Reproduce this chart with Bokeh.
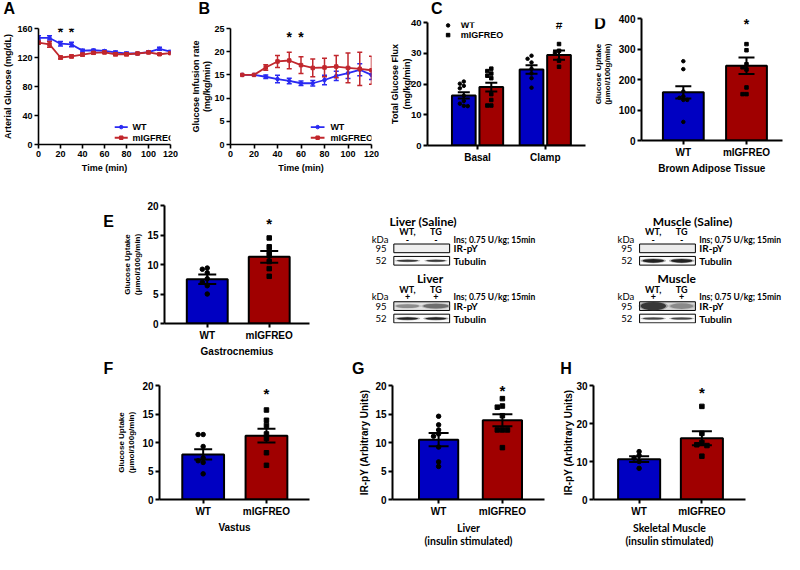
import math
from bokeh.plotting import figure
from bokeh.layouts import row, column
from bokeh.models import Label, Range1d, FixedTicker
from bokeh.embed import file_html
from bokeh.resources import INLINE

# ---------------- data ----------------
time_A = [0, 10, 20, 30, 40, 50, 60, 70, 80, 90, 100, 110, 120]
glucose_wt = [147, 147, 139, 138, 129.5, 130, 129, 127, 125.5, 125.5, 127.5, 132, 128]
glucose_wt_err = [3, 3, 3, 3, 2, 1.5, 1.5, 2, 2, 1.5, 1.5, 2, 1.5]
glucose_ko = [140.5, 138, 120, 121.5, 124, 126.5, 127, 124.5, 124.5, 125.5, 127, 124.5, 126]
glucose_ko_err = [2, 4, 2, 2, 2, 1.5, 1.5, 2, 2, 1.5, 1.5, 1.5, 1.5]
sig_A = [20, 30]

time_B = [10, 20, 30, 40, 50, 60, 70, 80, 90, 100, 110, 120]
gir_wt = [15, 15, 14.6, 14.1, 13.7, 13.2, 13.2, 13.9, 14.8, 15.4, 16.1, 15.0]
gir_wt_err = [0, 0, 0.4, 0.8, 0.6, 0.5, 0.6, 1.0, 1.0, 1.2, 1.3, 1.0]
gir_ko = [15, 15, 16.6, 17.9, 18.1, 17.1, 16.5, 16.6, 16.8, 16.5, 16.3, 16.0]
gir_ko_err = [0, 0, 0.6, 1.3, 1.8, 1.8, 1.9, 2.0, 2.4, 3.2, 3.6, 3.0]
sig_B = [50, 60]

groups = ["WT", "mIGFREO"]
flux_conditions = ["Basal", "Clamp"]
flux_wt_mean = [16.3, 24.7]
flux_wt_sem = [1.0, 1.4]
flux_ko_mean = [19.0, 29.4]
flux_ko_sem = [1.4, 1.5]
flux_wt_basal_pts = [20.8, 20.1, 19.4, 18.6, 16.2, 14.5, 13.6, 12.9, 12.8]
flux_ko_basal_pts = [25.0, 24.2, 23.4, 22.7, 21.9, 16.7, 14.8, 13.0, 13.0]
flux_wt_clamp_pts = [29.2, 28.2, 27.0, 25.0, 23.4, 21.9, 18.8]
flux_ko_clamp_pts = [33.0, 30.8, 30.0, 27.6, 25.6]

bat_mean = [158, 245]
bat_sem = [20, 27]
bat_wt_pts = [260, 234, 161, 145, 140, 133, 133, 61]
bat_ko_pts = [316, 296, 250, 240, 233, 174, 152, 152]

gas_mean = [7.5, 11.3]
gas_sem = [0.8, 1.0]
gas_wt_pts = [9.4, 9.2, 8.6, 7.6, 7.0, 6.4, 5.0]
gas_ko_pts = [14.5, 13.0, 12.2, 11.5, 10.5, 9.3, 8.0]

vas_mean = [7.9, 11.2]
vas_sem = [0.9, 1.2]
vas_wt_pts = [11.4, 11.4, 9.3, 7.3, 6.8, 6.5, 4.5]
vas_ko_pts = [15.7, 13.9, 13.0, 11.5, 10.7, 8.2, 6.0]

liv_mean = [10.5, 13.9]
liv_sem = [1.15, 1.05]
liv_wt_pts = [14.6, 13.1, 12.2, 11.5, 11.1, 9.2, 6.6, 5.8]
liv_ko_pts = [17.7, 16.4, 16.2, 14.7, 12.2, 12.2, 12.2, 9.1]

mus_mean = [10.6, 16.1]
mus_sem = [0.75, 1.85]
mus_wt_pts = [12.6, 11.6, 10.9, 10.0, 8.2]
mus_ko_pts = [24.5, 17.4, 15.0, 14.4, 14.2, 11.4]

# ---------------- styling ----------------
ARIAL = "Liberation Sans"
CAL = "Lato"
LINE_BLUE = "#2a2af2"
LINE_RED = "#c1272d"
BAR_BLUE = "#0000c2"
BAR_RED = "#a00000"

SX = 784 / 800.0
SY = 550 / 570.0


def bx(x):
    return int(round(x * SX))


def by(y):
    return int(round(y * SY))


class Panel:
    def __init__(self, box, frame, xr, yr, axes=True):
        X0, Y0, X1, Y1 = box
        FX0, FY0, FX1, FY1 = frame
        self.frame = frame
        self.xr = xr
        self.yr = yr
        kw = dict(width=bx(X1) - bx(X0), height=by(Y1) - by(Y0),
                  x_range=Range1d(*xr), y_range=Range1d(*yr),
                  min_border_left=bx(FX0) - bx(X0), min_border_right=bx(X1) - bx(FX1),
                  min_border_top=by(FY0) - by(Y0), min_border_bottom=by(Y1) - by(FY1),
                  output_backend="svg", toolbar_location=None)
        if not axes:
            kw.update(x_axis_location=None, y_axis_location=None)
        self.p = figure(**kw)
        self.p.outline_line_color = None
        self.p.grid.visible = False
        self.p.background_fill_color = "white"
        self.p.border_fill_color = "white"

    def dx(self, X):
        FX0, _, FX1, _ = self.frame
        return self.xr[0] + (X - FX0) / (FX1 - FX0) * (self.xr[1] - self.xr[0])

    def dy(self, Y):
        _, FY0, _, FY1 = self.frame
        return self.yr[0] + (FY1 - Y) / (FY1 - FY0) * (self.yr[1] - self.yr[0])

    def ppx(self):
        FX0, _, FX1, _ = self.frame
        return (FX1 - FX0) / (self.xr[1] - self.xr[0])

    def ppy(self):
        _, FY0, _, FY1 = self.frame
        return (FY1 - FY0) / abs(self.yr[1] - self.yr[0])


def text_panel(box):
    X0, Y0, X1, Y1 = box
    return Panel(box, box, (X0, X1), (Y1, Y0), axes=False)


def txt(P, X, Y, text, size, bold=True, font=ARIAL, align="center",
        baseline="middle", angle=0.0, xdata=None):
    x = xdata if xdata is not None else P.dx(X)
    P.p.add_layout(Label(x=x, y=P.dy(Y), text=text, text_font=font,
                         text_font_size=f"{size}px",
                         text_font_style="bold" if bold else "normal",
                         text_align=align, text_baseline=baseline, angle=angle,
                         text_color="black"))


def style_axes(P, xticks, yticks, xlabels=None, size="10px", lw=2,
               ylabel=None, ylabel_size=9, ylabel_standoff=0,
               xlabel=None, xlabel_size=9, xlabel_standoff=2, xlabel_font=ARIAL):
    p = P.p
    p.xaxis.ticker = FixedTicker(ticks=xticks)
    p.yaxis.ticker = FixedTicker(ticks=yticks)
    if xlabels:
        p.xaxis.major_label_overrides = dict(zip(xticks, xlabels))
    for ax in p.axis:
        ax.axis_line_width = lw
        ax.axis_line_color = "black"
        ax.major_tick_line_width = lw
        ax.major_tick_line_color = "black"
        ax.major_tick_in = 0
        ax.major_tick_out = 4
        ax.minor_tick_line_color = None
        ax.major_label_text_font = ARIAL
        ax.major_label_text_font_style = "bold"
        ax.major_label_text_font_size = size
        ax.major_label_text_color = "black"
        ax.major_label_standoff = 2
        ax.axis_label_text_color = "black"
        ax.axis_label_text_font_style = "bold"
        ax.axis_label_text_line_height = 1.15
    if ylabel:
        ya = p.yaxis[0]
        ya.axis_label = ylabel
        ya.axis_label_text_font = ARIAL
        ya.axis_label_text_font_size = f"{ylabel_size}px"
        ya.axis_label_standoff = ylabel_standoff
    if xlabel:
        xa = p.xaxis[0]
        xa.axis_label = xlabel
        xa.axis_label_text_font = xlabel_font
        xa.axis_label_text_font_size = f"{xlabel_size}px"
        xa.axis_label_standoff = xlabel_standoff


def line_series(P, xs, ys, es, color, marker):
    p = P.p
    ex = [x for x, e in zip(xs, es) if e > 0]
    lo = [y - e for y, e in zip(ys, es) if e > 0]
    hi = [y + e for y, e in zip(ys, es) if e > 0]
    p.segment(x0=ex, y0=lo, x1=ex, y1=hi, line_color=color, line_width=1.5)
    p.scatter(x=ex + ex, y=lo + hi, marker="dash", size=5, line_color=color, line_width=1.5)
    p.line(xs, ys, line_color=color, line_width=1.8)
    p.scatter(xs, ys, marker=marker, size=3.5, fill_color=color, line_color=color)


def swarm(vals, center, step, thr):
    placed, out = [], []
    for v in vals:
        x = center
        for k in (0, -1, 1, -2, 2, -3, 3):
            x = center + k * step
            if all(abs(v - pv) >= thr or abs(x - px) > step * 0.5 for px, pv in placed):
                break
        placed.append((x, v))
        out.append(x)
    return out


def bars(P, centers, means, sems, colors, pts_list, markers, width, cap_px, dot_px):
    p = P.p
    p.vbar(x=centers, top=means, bottom=0, width=width, fill_color=colors,
           line_color="black", line_width=2)
    lo = [m - s for m, s in zip(means, sems)]
    hi = [m + s for m, s in zip(means, sems)]
    p.segment(x0=centers, y0=lo, x1=centers, y1=hi, line_color="black", line_width=2)
    p.scatter(x=list(centers) + list(centers), y=lo + hi, marker="dash", size=cap_px,
              line_color="black", line_width=2)
    step = dot_px * 1.15 / P.ppx()
    thr = dot_px * 0.95 / P.ppy()
    for c, pts, mk in zip(centers, pts_list, markers):
        xs = swarm(pts, c, step, thr)
        p.scatter(xs, pts, marker=mk, size=dot_px, fill_color="black", line_color="black")


ROT = math.pi / 2

# ---------------- row 1: letters A, B ----------------
SAB = text_panel((0, 0, 395, 20))
txt(SAB, 9, 8, "A", 16)
txt(SAB, 208, 8, "B", 16)

# ---------------- Panel A ----------------
PA = Panel((0, 20, 188, 182), (31, 29, 173, 149), (0, 120), (0, 160))
style_axes(PA, [0, 20, 40, 60, 80, 100, 120], [0, 40, 80, 120, 160], size="9px", lw=1.6,
           ylabel="Arterial Glucose (mg/dL)", ylabel_size=9, ylabel_standoff=1,
           xlabel="Time (min)", xlabel_size=9, xlabel_standoff=3)
line_series(PA, time_A, glucose_wt, glucose_wt_err, LINE_BLUE, "circle")
line_series(PA, time_A, glucose_ko, glucose_ko_err, LINE_RED, "square")
for t in sig_A:
    txt(PA, 0, 33, "*", 14, xdata=t)
for Y, col, mk, name in ((131, LINE_BLUE, "circle", "WT"), (142, LINE_RED, "square", "mIGFREO")):
    PA.p.segment(x0=[PA.dx(113)], y0=[PA.dy(Y)], x1=[PA.dx(127)], y1=[PA.dy(Y)], line_color=col, line_width=1.8)
    PA.p.scatter([PA.dx(120)], [PA.dy(Y)], marker=mk, size=3.5, fill_color=col, line_color=col)
    txt(PA, 132, Y, name, 9, align="left")

# ---------------- Panel B ----------------
PB = Panel((188, 20, 395, 182), (235, 29, 379, 149), (0, 120), (0, 25))
style_axes(PB, [0, 20, 40, 60, 80, 100, 120], [0, 5, 10, 15, 20, 25], size="9px", lw=1.6,
           ylabel="Glucose Infusion rate\n(mg/kg/min)", ylabel_size=9, ylabel_standoff=-1,
           xlabel="Time (min)", xlabel_size=9, xlabel_standoff=3)
line_series(PB, time_B, gir_wt, gir_wt_err, LINE_BLUE, "circle")
line_series(PB, time_B, gir_ko, gir_ko_err, LINE_RED, "square")
for t in sig_B:
    txt(PB, 0, 38, "*", 14, xdata=t)
for Y, col, mk, name in ((131, LINE_BLUE, "circle", "WT"), (142, LINE_RED, "square", "mIGFREO")):
    PB.p.segment(x0=[PB.dx(317)], y0=[PB.dy(Y)], x1=[PB.dx(331)], y1=[PB.dy(Y)], line_color=col, line_width=1.8)
    PB.p.scatter([PB.dx(324)], [PB.dy(Y)], marker=mk, size=3.5, fill_color=col, line_color=col)
    txt(PB, 337, Y, name, 9, align="left")

# ---------------- Panel C ----------------
SC = text_panel((395, 0, 600, 18))
txt(SC, 407, 8, "C", 16)
PC = Panel((395, 18, 600, 182), (436, 23, 597, 150), (0.261, 2.594), (0, 40))
style_axes(PC, [1, 2], [0, 10, 20, 30, 40], xlabels=flux_conditions, size="9.5px",
           ylabel="Total Glucose Flux\n(mg/kg/min)", ylabel_size=9, ylabel_standoff=-4)
PC.p.xaxis.major_label_text_font_size = "10px"
off = 0.203
bars(PC, [1 - off, 2 - off], flux_wt_mean, flux_wt_sem, [BAR_BLUE, BAR_BLUE],
     [flux_wt_basal_pts, flux_wt_clamp_pts], ["circle", "circle"], 0.35, 12, 3.5)
bars(PC, [1 + off, 2 + off], flux_ko_mean, flux_ko_sem, [BAR_RED, BAR_RED],
     [flux_ko_basal_pts, flux_ko_clamp_pts], ["square", "square"], 0.35, 12, 3.5)
txt(PC, 0, 26, "#", 12, xdata=2 + off)
PC.p.scatter([PC.dx(457)], [PC.dy(26)], marker="circle", size=3.5, fill_color="black", line_color="black")
PC.p.scatter([PC.dx(457)], [PC.dy(36)], marker="square", size=3.5, fill_color="black", line_color="black")
txt(PC, 470, 26, groups[0], 9, align="left")
txt(PC, 470, 36, groups[1], 9, align="left")

# ---------------- Panel D ----------------
SD = text_panel((600, 0, 628, 182))
txt(SD, 612, 8, "D", 16)
txt(SD, 610, 83, "Glucose Uptake", 8, angle=ROT)
txt(SD, 620, 83, "(\u03bcmol/100g/min)", 8, angle=ROT)
PD = Panel((628, 0, 800, 182), (653, 19, 798, 148), (0.338, 2.57), (0, 400))
style_axes(PD, [1, 2], [0, 100, 200, 300, 400], xlabels=groups, size="10px",
           xlabel="Brown Adipose Tissue", xlabel_size=10, xlabel_standoff=2)
bars(PD, [1, 2], bat_mean, bat_sem, [BAR_BLUE, BAR_RED], [bat_wt_pts, bat_ko_pts],
     ["circle", "square"], 0.646, 16, 3.5)
txt(PD, 0, 25, "*", 14, xdata=2)

# ---------------- Panel E ----------------
SE = text_panel((0, 182, 122, 372))
txt(SE, 110, 207.5, "E", 16)
PE = Panel((122, 182, 320, 372), (163, 212, 315, 340), (0.31, 2.65), (0, 20))
style_axes(PE, [1, 2], [0, 5, 10, 15, 20], xlabels=groups, size="10px",
           ylabel="Glucose Uptake\n(\u03bcmol/100g/min)", ylabel_size=8, ylabel_standoff=2,
           xlabel="Gastrocnemius", xlabel_size=10, xlabel_standoff=2)
bars(PE, [1, 2], gas_mean, gas_sem, [BAR_BLUE, BAR_RED], [gas_wt_pts, gas_ko_pts],
     ["circle", "square"], 0.66, 18, 4.5)
txt(PE, 0, 231, "*", 15, xdata=2)

# ---------------- Western blots ----------------
PW = text_panel((320, 182, 800, 372))
BOX_W = 57


def blot(x0, y0, title, title_cx, sign, ir_bg, ir_bands, tub_bands):
    p = PW.p
    l1, l2 = x0 + 14, x0 + 43
    txt(PW, title_cx, y0, title, 12, font=CAL)
    txt(PW, l1, y0 + 17, "WT,", 9, font=CAL)
    txt(PW, l2, y0 + 17, "TG", 9, font=CAL)
    txt(PW, x0 - 14, y0 + 29, "kDa", 9.5, bold=False, font=CAL)
    txt(PW, l1, y0 + 29, sign, 9, font=CAL)
    txt(PW, l2, y0 + 29, sign, 9, font=CAL)
    txt(PW, x0 + BOX_W + 4, y0 + 30, "Ins; 0.75 U/kg; 15min", 8.5, font=CAL, align="left")
    for (top, bot, bg, bands, kda, name) in ((y0 + 37, y0 + 51, ir_bg, ir_bands, "95", "IR-pY"),
                                            (y0 + 57, y0 + 71, "#fbfbfb", tub_bands, "52", "Tubulin")):
        p.quad(left=[x0], right=[x0 + BOX_W], top=[top], bottom=[bot], fill_color=bg,
               line_color="black", line_width=1)
        cy = (top + bot) / 2.0
        for lane, w, h, col in bands:
            lx = l1 if lane == 1 else l2
            p.ellipse(x=[lx], y=[cy], width=[w + 4], height=[h + 2], fill_color=col,
                      fill_alpha=0.35, line_color=None)
            p.ellipse(x=[lx], y=[cy], width=[w], height=[h], fill_color=col,
                      line_color=None)
        txt(PW, x0 - 13, cy, kda, 9.5, bold=False, font=CAL)
        txt(PW, x0 + BOX_W + 4, cy, name, 10, font=CAL, align="left")


blot(401, 207, "Liver (Saline)", 431, "-", "#efefef", [],
     [(1, 22, 3, "#3a3a3a"), (2, 20, 3, "#3a3a3a")])
blot(652, 207, "Muscle (Saline)", 706, "-", "#ececec", [],
     [(1, 22, 6, "#222222"), (2, 22, 6, "#222222")])
blot(401, 300, "Liver", 438, "+", "#e2e2e2",
     [(1, 24, 6, "#8c8c8c"), (2, 26, 8, "#6e6e6e")],
     [(1, 22, 4, "#222222"), (2, 22, 4, "#222222")])
blot(652, 300, "Muscle", 690, "+", "#d8d8d8",
     [(1, 26, 13, "#383838"), (2, 24, 9, "#8a8a8a")],
     [(1, 22, 3, "#444444"), (2, 22, 3, "#444444")])

# ---------------- row 3: letters F, G, H ----------------
S3 = text_panel((0, 372, 800, 391))
for X, Y, L in ((110, 382, "F"), (365, 381, "G"), (577, 382, "H")):
    txt(S3, X, Y, L, 16)

# ---------------- Panel F ----------------
PF = Panel((0, 391, 340, 570), (162, 398, 315, 527), (0.31, 2.68), (0, 20))
style_axes(PF, [1, 2], [0, 5, 10, 15, 20], xlabels=groups, size="10px",
           ylabel="Glucose Uptake\n(\u03bcmol/100g/min)", ylabel_size=8, ylabel_standoff=3,
           xlabel="Vastus", xlabel_size=10, xlabel_standoff=2)
bars(PF, [1, 2], vas_mean, vas_sem, [BAR_BLUE, BAR_RED], [vas_wt_pts, vas_ko_pts],
     ["circle", "square"], 0.66, 18, 4.5)
txt(PF, 0, 407, "*", 15, xdata=2)

# ---------------- Panel G ----------------
PG = Panel((340, 391, 565, 570), (400, 399, 555, 527), (0.277, 2.66), (0, 20))
style_axes(PG, [1, 2], [0, 5, 10, 15, 20], xlabels=groups, size="10px",
           ylabel="IR-pY (Arbitrary Units)", ylabel_size=10, ylabel_standoff=2,
           xlabel="Liver\n(insulin stimulated)", xlabel_size=10.5, xlabel_standoff=2,
           xlabel_font=CAL)
bars(PG, [1, 2], liv_mean, liv_sem, [BAR_BLUE, BAR_RED], [liv_wt_pts, liv_ko_pts],
     ["circle", "square"], 0.615, 20, 4.5)
txt(PG, 0, 405, "*", 15, xdata=2)

# ---------------- Panel H ----------------
PH = Panel((565, 391, 800, 570), (605, 398, 760, 527), (0.273, 2.695), (0, 30))
style_axes(PH, [1, 2], [0, 10, 20, 30], xlabels=groups, size="10px",
           ylabel="IR-pY (Arbitrary Units)", ylabel_size=10, ylabel_standoff=-1,
           xlabel="Skeletal Muscle\n(insulin stimulated)", xlabel_size=10.5, xlabel_standoff=2,
           xlabel_font=CAL)
bars(PH, [1, 2], mus_mean, mus_sem, [BAR_BLUE, BAR_RED], [mus_wt_pts, mus_ko_pts],
     ["circle", "square"], 0.67, 20, 4.5)
txt(PH, 0, 406, "*", 15, xdata=2)

row1 = row(
    column(SAB.p, row(PA.p, PB.p)),
    column(SC.p, PC.p),
    row(SD.p, PD.p),
)
layout = column(
    row1,
    row(SE.p, PE.p, PW.p),
    S3.p,
    row(PF.p, PG.p, PH.p),
)

open("out.html", "w").write(file_html(layout, INLINE))
